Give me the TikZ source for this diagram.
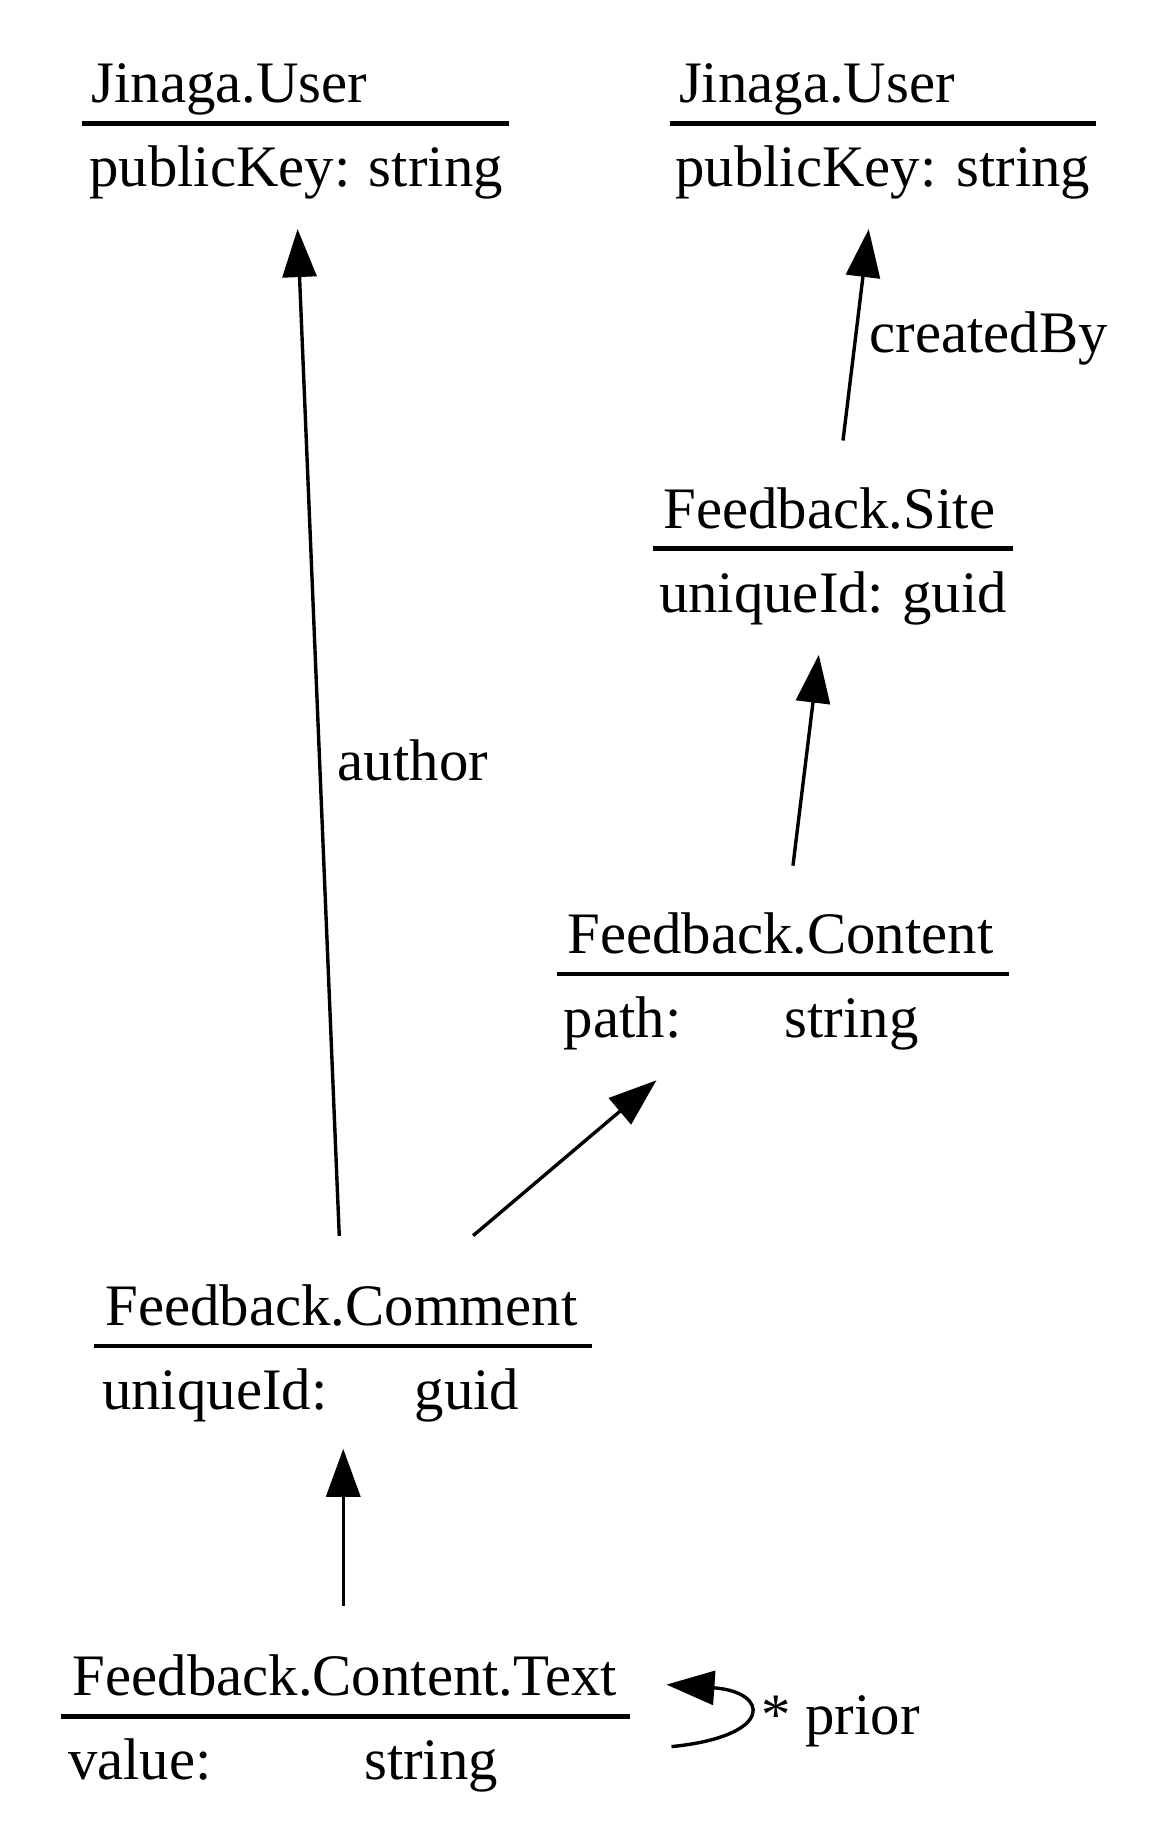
\documentclass[tikz,border=0pt]{standalone}
\usepackage{fontspec}
\setmainfont{Liberation Serif}
\usetikzlibrary{arrows.meta}
\begin{document}
\begin{tikzpicture}[x=0.5876pt,y=-0.5876pt,
  txt/.style={anchor=base west,inner sep=0pt,outer sep=0pt,font=\fontsize{29.4}{35}\selectfont},
  txte/.style={txt,anchor=base east},
  uline/.style={line width=2.2pt},
  rel/.style={line width=1.7pt,-{Triangle[length=24pt,width=17pt]}}]
\useasboundingbox (0,0) rectangle (982,1568);

% Jinaga.User (left)
\node[txt] (u1t) at (78,87.6) {Jinaga.User};
\draw[uline] (70,105) coordinate (u1a) -- (433,105) coordinate (u1b);
\node[txt] (u1k) at (76,159) {publicKey:};
\node[txte] (u1v) at (428,159) {string};
\coordinate (u1in) at (253.3,195);

% Jinaga.User (right)
\node[txt] (u2t) at (578,87.6) {Jinaga.User};
\draw[uline] (570,105) coordinate (u2a) -- (933,105) coordinate (u2b);
\node[txt] (u2k) at (575,159) {publicKey:};
\node[txte] (u2v) at (928,159) {string};
\coordinate (u2in) at (739.5,195);

% Feedback.Site
\node[txt] (st) at (565,449.6) {Feedback.Site};
\draw[uline] (556,467) coordinate (sa) -- (862,467) coordinate (sb);
\node[txt] (sk) at (561,521) {uniqueId:};
\node[txte] (sv) at (857,521) {guid};
\coordinate (sout) at (717.6,375);
\coordinate (sin) at (697,557.4);

% Feedback.Content
\node[txt] (ct) at (483,811.6) {Feedback.Content};
\draw[uline] (474,829) coordinate (ca) -- (859,829) coordinate (cb);
\node[txt] (ck) at (480,883) {path:};
\node[txt] (cv) at (668,883) {string};
\coordinate (cout) at (675,736.9);
\coordinate (cin) at (558.8,919.6);

% Feedback.Comment
\node[txt] (mt) at (90,1128.6) {Feedback.Comment};
\draw[uline] (80,1146) coordinate (ma) -- (504,1146) coordinate (mb);
\node[txt] (mk) at (87,1200) {uniqueId:};
\node[txt] (mv) at (353,1200) {guid};
\coordinate (mout1) at (288.8,1052);
\coordinate (mout2) at (402.8,1051.8);
\coordinate (min) at (292.2,1233.3);

% Feedback.Content.Text
\node[txt] (xt) at (62,1443.6) {Feedback.Content.Text};
\draw[uline] (52,1461) coordinate (xa) -- (536,1461) coordinate (xb);
\node[txt] (xk) at (58,1515) {value:};
\node[txt] (xv) at (310,1515) {string};
\coordinate (xout) at (292.2,1367);
\coordinate (xls) at (571.6,1486.8);
\coordinate (xle) at (567.3,1434);

% connectors
\draw[rel] (mout1) -- (u1in);
\node[txt] (lauthor) at (287.6,664.5) {author};
\draw[rel] (sout) -- (u2in);
\node[txt] (lcreated) at (740.3,300) {createdBy};
\draw[rel] (cout) -- (sin);
\draw[rel] (mout2) -- (cin);
\draw[rel] (xout) -- (min);
\draw[rel] (xls) .. controls (660,1478) and (655,1440) .. (xle);
\node[txt] (lprior) at (648,1476.4) {* prior};
\end{tikzpicture}
\end{document}
